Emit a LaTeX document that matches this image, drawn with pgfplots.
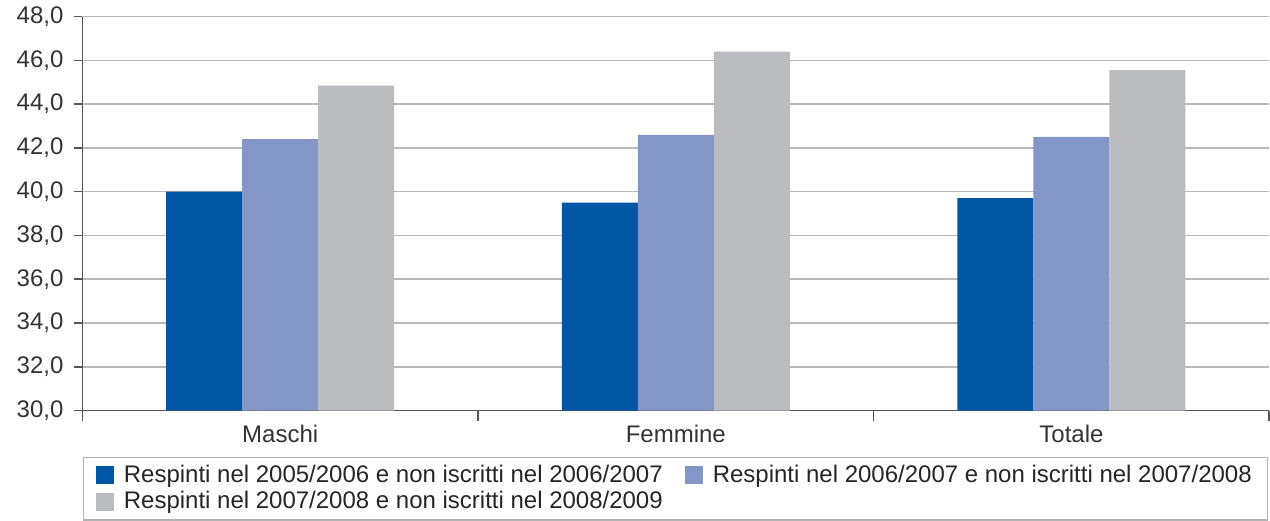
\documentclass[border=0pt]{standalone}
\usepackage{pgfplots}
\pgfplotsset{compat=1.18}
\usepackage{fontspec}
\setmainfont{Liberation Sans}
\definecolor{serA}{RGB}{0,85,164}
\definecolor{serB}{RGB}{132,149,200}
\definecolor{serC}{RGB}{187,188,192}
\definecolor{axcol}{RGB}{85,85,85}
\begin{document}
\begin{tikzpicture}
\begin{axis}[
  scale only axis,
  width=593.5pt, height=197pt,
  ybar=0pt, bar width=38pt,
  xmin=-0.5, xmax=2.5,
  ymin=30, ymax=48,
  ytick={30,32,...,48},
  xtick={0,1,2},
  xticklabels={Maschi,Femmine,Totale},
  minor xtick={-0.5,0.5,1.5,2.5},
  major x tick style={draw=none},
  tick align=outside,
  major tick length=4pt,
  minor tick length=5pt,
  tick style={axcol, line width=0.8pt},
  axis x line*=bottom,
  axis y line*=left,
  axis line style={axcol, line width=0.8pt, -},
  ymajorgrids,
  grid style={gray!55, line width=0.8pt},
  /pgf/number format/.cd, fixed, fixed zerofill, precision=1, use comma, assume math mode=true,
  /pgfplots/.cd,
  tick label style={font=\fontsize{12}{14}\selectfont, text=black!80},
  yticklabel style={xshift=-2pt},
  legend columns=2,
  legend cell align=left,
  legend style={at={(0.5,-0.117)}, anchor=north, draw=gray!60, line width=0.6pt,
    font=\fontsize{12}{13}\selectfont, text=black!85,
    inner xsep=6pt, inner ysep=2pt, row sep=-1pt,
    /tikz/every even column/.append style={column sep=9pt}},
  legend image code/.code={\fill[#1] (0pt,-4.5pt) rectangle (9pt,4.5pt); \path (12pt,0pt);},
]
\addplot[draw=none, fill=serA] coordinates {(0,40.0) (1,39.5) (2,39.7)};
\addplot[draw=none, fill=serB] coordinates {(0,42.4) (1,42.6) (2,42.5)};
\addplot[draw=none, fill=serC] coordinates {(0,44.85) (1,46.4) (2,45.55)};
\legend{Respinti nel 2005/2006 e non iscritti nel 2006/2007,
        Respinti nel 2006/2007 e non iscritti nel 2007/2008,
        Respinti nel 2007/2008 e non iscritti nel 2008/2009}
\end{axis}
\path ([xshift=-5pt]current bounding box.west);
\end{tikzpicture}
\end{document}
